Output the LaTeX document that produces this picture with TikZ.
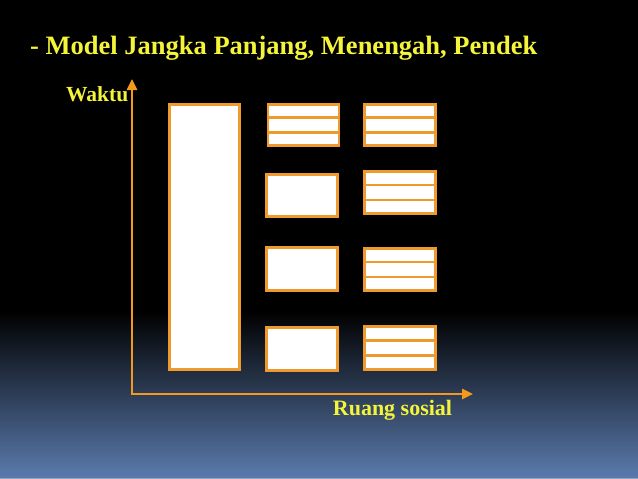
\documentclass[tikz,border=0pt]{standalone}
\usepackage{fontspec}
\setmainfont{Liberation Serif}
\usetikzlibrary{arrows.meta,calc}
\definecolor{boxorange}{HTML}{EE9A2C}
\definecolor{axisorange}{HTML}{F39A1E}
\definecolor{txtyellow}{HTML}{F4F43A}
\definecolor{bgblue}{HTML}{5B7BAE}
\tikzset{
  box/.style={draw=boxorange, fill=white, line width=2.8pt, inner sep=0pt, rectangle, minimum width=71pt, minimum height=42pt},
  stripe/.style={draw=boxorange, line width=2.8pt},
  axis/.style={draw=axisorange, line width=2.6pt, -{Triangle[length=11pt,width=10pt]}},
  lbl/.style={text=txtyellow, font=\bfseries, inner sep=0pt},
}
\begin{document}
\begin{tikzpicture}[x=1pt,y=-1pt]
\useasboundingbox (0,0) rectangle (638,479);
% background
\fill[black] (0,0) rectangle (638,312);
\shade[top color=black, bottom color=bgblue] (0,311) rectangle (638,479);
\fill[bgblue!70!white] (0,477.5) rectangle (638,479);
% title
\node[lbl, font=\bfseries\fontsize{26.5}{30}\selectfont, anchor=base west] (title) at (30,54) {- Model Jangka Panjang, Menengah, Pendek};
% axes
\coordinate (origin) at (132,394);
\coordinate (ytip) at (132,79);
\coordinate (xtip) at (473,394);
\draw[axis] ([yshift=1.3pt]origin) -- (ytip);
\draw[axis] ([xshift=-1.3pt]origin) -- (xtip);
\node[lbl, font=\bfseries\fontsize{21.5}{24}\selectfont, anchor=base east] (waktu) at (128.5,101) {Waktu};
\node[lbl, font=\bfseries\fontsize{22}{26}\selectfont, anchor=base] (ruang) at (392.5,415.5) {Ruang sosial};
% boxes
\node[box, minimum width=70pt, minimum height=265pt] (tall) at (204.5,237) {};
\node[box, minimum height=41pt] (c2r1) at (303.5,125) {};
\node[box, minimum height=41pt] (c3r1) at (400,125) {};
\node[box] (c2r2) at (302,195.5) {};
\node[box] (c3r2) at (400,192.5) {};
\node[box, minimum height=43pt] (c2r3) at (302,269) {};
\node[box, minimum height=42pt] (c3r3) at (400,269.5) {};
\node[box, minimum height=43pt] (c2r4) at (302,349) {};
\node[box, minimum height=43pt] (c3r4) at (400,348) {};
\foreach \b in {c2r1,c3r1,c3r2,c3r3,c3r4}{
  \draw[stripe] ($(\b.north west)!0.3333!(\b.south west)$) -- ($(\b.north east)!0.3333!(\b.south east)$);
  \draw[stripe] ($(\b.north west)!0.6667!(\b.south west)$) -- ($(\b.north east)!0.6667!(\b.south east)$);
}
\end{tikzpicture}
\end{document}
